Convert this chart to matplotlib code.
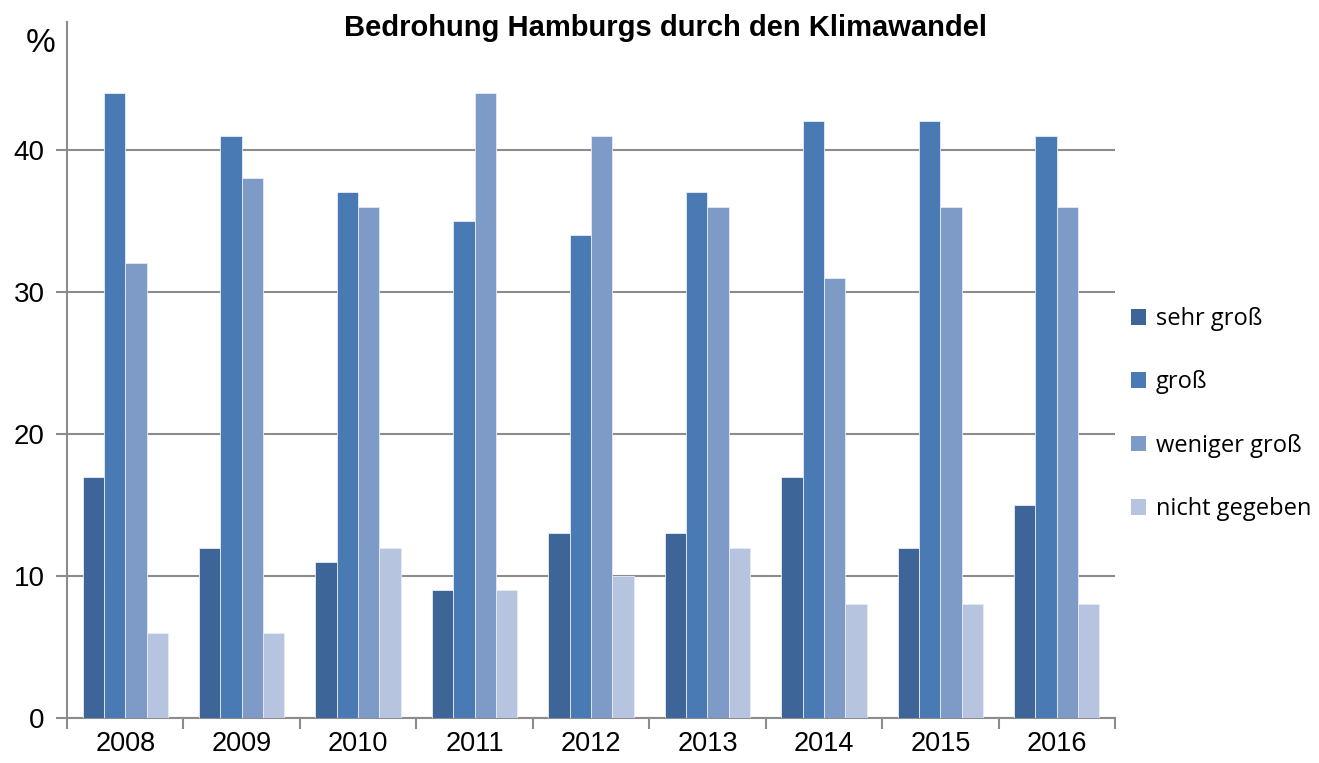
import matplotlib
matplotlib.use("Agg")
import matplotlib.pyplot as plt
import numpy as np
from matplotlib.patches import Patch

years = ["2008", "2009", "2010", "2011", "2012", "2013", "2014", "2015", "2016"]
series_names = ["sehr groß", "groß", "weniger groß", "nicht gegeben"]
sehr_gross = [17, 12, 11, 9, 13, 13, 17, 12, 15]
gross = [44, 41, 37, 35, 34, 37, 42, 42, 41]
weniger_gross = [32, 38, 36, 44, 41, 36, 31, 36, 36]
nicht_gegeben = [6, 6, 12, 9, 10, 12, 8, 8, 8]
yticks = [0, 10, 20, 30, 40]
title = "Bedrohung Hamburgs durch den Klimawandel"

series = [sehr_gross, gross, weniger_gross, nicht_gegeben]
colors = ["#3D6598", "#4A7AB4", "#7E9BC8", "#B6C4DF"]

plt.rcParams['font.family'] = ['Liberation Sans', 'DejaVu Sans']

fig = plt.figure(figsize=(13.19, 7.63), dpi=100)
ax = fig.add_axes([67/1319, 1-718/763, (1115-67)/1319, (718-22)/763])

x = np.arange(len(years))
w = 0.183
for i, (vals, c) in enumerate(zip(series, colors)):
    ax.bar(x + (i - 1.5) * w, vals, width=w, color=c, edgecolor="#e6ecf5", linewidth=0.6, zorder=3)

ax.set_xlim(-0.5, len(years) - 0.5)
ax.set_ylim(0, 49)
ax.set_yticks(yticks)
ax.set_yticklabels([str(t) for t in yticks], fontsize=20)
ax.set_xticks(x)
ax.set_xticklabels(years, fontsize=19.5)
ax.tick_params(axis='x', which='major', length=0, pad=9.5)
ax.set_xticks(np.arange(len(years) + 1) - 0.5, minor=True)
ax.tick_params(axis='x', which='minor', length=8, width=1.5, color="#8c8c8c", direction='out')
ax.tick_params(axis='y', length=8, width=1.5, color="#8c8c8c", direction='out', pad=8)
ax.yaxis.grid(True, color="#8c8c8c", linewidth=1.5, zorder=0)
ax.set_axisbelow(True)
for s in ["top", "right"]:
    ax.spines[s].set_visible(False)
for s in ["left", "bottom"]:
    ax.spines[s].set_color("#8c8c8c")
    ax.spines[s].set_linewidth(1.5)

fig.text(665/1319, 1-28/763, title, ha='center', va='center', fontsize=21, fontweight='bold')
fig.text(41/1319, 1-44/763, "%", ha='center', va='center', fontsize=24)

handles = [Patch(facecolor=c, edgecolor='none') for c in colors]
leg = fig.legend(handles, series_names, loc='upper left', bbox_to_anchor=(1131/1319, 1-307/763),
                 frameon=False, prop={'family': ['Open Sans', 'DejaVu Sans'], 'size': 17},
                 handlelength=0.65, handleheight=0.65, handletextpad=0.4, labelspacing=1.67,
                 borderpad=0, borderaxespad=0)

fig.savefig("out.png", dpi=100)
